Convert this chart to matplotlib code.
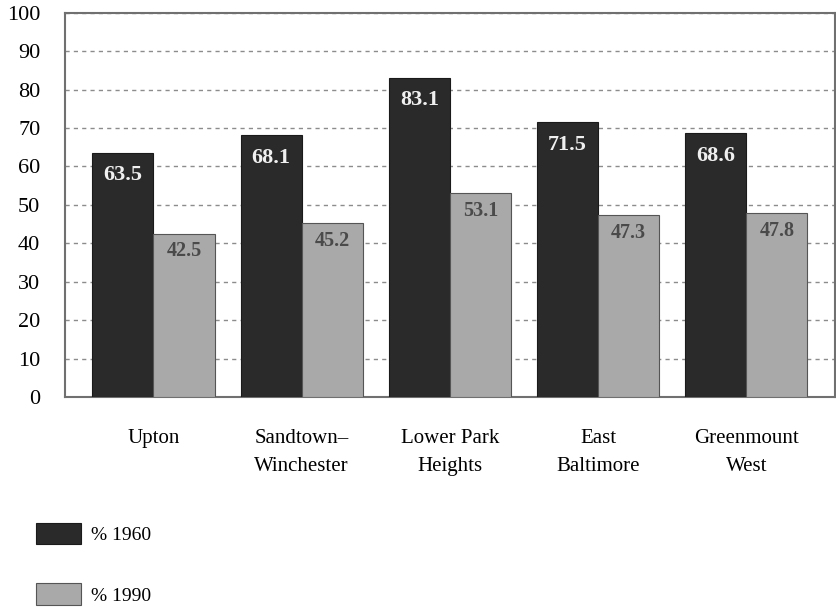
import matplotlib.pyplot as plt
import numpy as np

neighborhoods = ["Upton", "Sandtown\u2013\nWinchester", "Lower Park\nHeights",
                 "East\nBaltimore", "Greenmount\nWest"]
pct_1960 = [63.5, 68.1, 83.1, 71.5, 68.6]
pct_1990 = [42.5, 45.2, 53.1, 47.3, 47.8]
y_ticks = list(range(0, 101, 10))

DARK = "#2a2a2a"
LIGHT = "#a9a9a9"

plt.rcParams['font.family'] = ['Liberation Serif', 'DejaVu Serif']

fig = plt.figure(figsize=(8.37, 6.07), dpi=100)
ax = fig.add_axes([0.078, 0.346, 0.920, 0.633])

x = np.arange(len(neighborhoods))
w = 0.412
b1 = ax.bar(x - w / 2, pct_1960, w, color=DARK, edgecolor="#1a1a1a", linewidth=0.8,
            label="% 1960", zorder=3)
b2 = ax.bar(x + w / 2, pct_1990, w, color=LIGHT, edgecolor="#555555", linewidth=0.8,
            label="% 1990", zorder=3)

for xi, v in zip(x - w / 2, pct_1960):
    ax.text(xi, v - 5.8, f"{v:.1f}", ha="center", va="center", color="#f0f0f0",
            fontsize=16, fontweight="bold", zorder=4)
for xi, v in zip(x + w / 2, pct_1990):
    ax.text(xi, v - 4.6, f"{v:.1f}", ha="center", va="center", color="#4a4a4a",
            fontsize=14.5, fontweight="bold", zorder=4)

ax.set_xlim(-0.595, 4.6)
ax.set_ylim(0, 100)
ax.set_yticks(y_ticks)
ax.set_xticks(x)
ax.set_xticklabels(neighborhoods, fontsize=15, linespacing=1.65)
ax.tick_params(axis="y", length=0, labelsize=16, pad=18)
ax.tick_params(axis="x", length=0, pad=23)

ax.yaxis.grid(True, linestyle=(0, (3, 3)), color="#8c8c8c", linewidth=1.0, zorder=0)
for s in ax.spines.values():
    s.set_color("#707070")
    s.set_linewidth(1.5)

fig.legend(handles=[b1, b2], loc="upper left", bbox_to_anchor=(0.043, 0.139),
           frameon=False, fontsize=14, handlelength=2.3, handleheight=1.35,
           labelspacing=2.0, handletextpad=0.55, borderaxespad=0, borderpad=0)

fig.savefig("out.png", dpi=100)
